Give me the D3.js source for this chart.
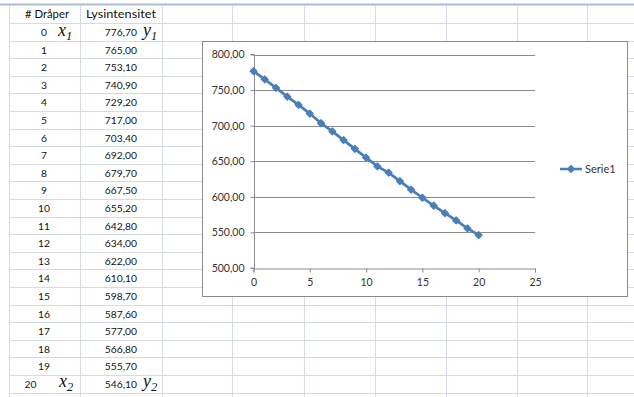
<!DOCTYPE html>
<html>
<head>
<meta charset="utf-8">
<script src="https://cdn.jsdelivr.net/npm/d3@7"></script>
<style>
  html, body { margin: 0; padding: 0; background: #fff; }
  svg { display: block; }
</style>
</head>
<body>
<svg id="sheet" width="634" height="397"></svg>
<script>
// Drop count and measured light intensity
const drops = [0, 1, 2, 3, 4, 5, 6, 7, 8, 9, 10, 11, 12, 13, 14, 15, 16, 17, 18, 19, 20];
const intensity = [776.70, 765.00, 753.10, 740.90, 729.20, 717.00, 703.40, 692.00, 679.70, 667.50,
                   655.20, 642.80, 634.00, 622.00, 610.10, 598.70, 587.60, 577.00, 566.80, 555.70, 546.10];
const headers = ["# Dråper", "Lysintensitet"];
const xTicks = [0, 5, 10, 15, 20, 25];
const yTicks = [500, 550, 600, 650, 700, 750, 800];
const seriesName = "Serie1";

const svg = d3.select("#sheet");
const fmt = v => d3.format(".2f")(v).replace(".", ",");
const cellFont = "Lato, 'Open Sans', sans-serif";

// ---- worksheet grid ----
const colLines = [9.5, 80.5, 162.5, 232.5, 304.5, 375.5, 446.5, 517.5, 587.5];
const rowTop = 23;
const rowH = 17.6;
const grid = svg.append("g");
colLines.forEach(x => grid.append("line")
  .attr("x1", x).attr("x2", x).attr("y1", 5).attr("y2", 397)
  .attr("stroke", "#d4dbe6").attr("stroke-width", 1));
for (let i = 0; i <= 22; i++) {
  const y = Math.round(rowTop + i * rowH) + 0.5;
  grid.append("line").attr("x1", 9).attr("x2", 634).attr("y1", y).attr("y2", y)
    .attr("stroke", "#d4dbe6").attr("stroke-width", 1);
}
grid.append("line").attr("x1", 0).attr("x2", 634).attr("y1", 4.5).attr("y2", 4.5)
  .attr("stroke", "#a9bcd2").attr("stroke-width", 2);

// header row
svg.append("text").attr("x", 25).attr("y", 14).attr("dy", "0.35em")
  .attr("font-family", cellFont).attr("font-size", 11).attr("fill", "#111")
  .attr("textLength", 44).attr("lengthAdjust", "spacingAndGlyphs").text(headers[0]);
svg.append("text").attr("x", 86).attr("y", 14).attr("dy", "0.35em")
  .attr("font-family", cellFont).attr("font-size", 11).attr("fill", "#111")
  .attr("textLength", 70).attr("lengthAdjust", "spacingAndGlyphs").text(headers[1]);

// data rows
const rowCenter = i => rowTop + (i + 0.5) * rowH;
svg.append("g").selectAll("text.d").data(drops).join("text")
  .attr("x", (d, i) => i === 20 ? 30.5 : 44)
  .attr("y", (d, i) => rowCenter(i) + 0.5).attr("dy", "0.35em")
  .attr("text-anchor", "middle")
  .attr("font-family", cellFont).attr("font-size", 10.3).attr("fill", "#111")
  .text(d => d);
svg.append("g").selectAll("text.v").data(intensity).join("text")
  .attr("x", 137).attr("y", (d, i) => rowCenter(i) + 0.5).attr("dy", "0.35em")
  .attr("text-anchor", "end")
  .attr("font-family", cellFont).attr("font-size", 10.3).attr("fill", "#111")
  .text(d => fmt(d));

// italic point labels x1, y1, x2, y2
function mathLabel(x, y, letter, sub) {
  const t = svg.append("text").attr("x", x).attr("y", y)
    .attr("font-family", "'Liberation Serif', 'DejaVu Serif', serif")
    .attr("font-style", "italic").attr("font-size", 18).attr("fill", "#111");
  t.append("tspan").text(letter);
  t.append("tspan").attr("font-size", 12.5).attr("dy", 4).text(sub);
}
mathLabel(58, rowCenter(0) + 4, "x", "1");
mathLabel(143, rowCenter(0) + 4, "y", "1");
mathLabel(59, rowCenter(20) + 3, "x", "2");
mathLabel(143, rowCenter(20) + 3, "y", "2");

// ---- embedded chart ----
const chart = svg.append("g");
chart.append("rect").attr("x", 202.5).attr("y", 41.5).attr("width", 425).attr("height", 255)
  .attr("fill", "#fff").attr("stroke", "#8a8a8a").attr("stroke-width", 1);

const x = d3.scaleLinear().domain([0, 25]).range([253.5, 535]);
const y = d3.scaleLinear().domain([500, 800]).range([268, 54.5]);
const axisColor = "#8c8c8c";
const labelFont = cellFont;

// horizontal gridlines
chart.append("g").selectAll("line").data(yTicks.filter(v => v > 500)).join("line")
  .attr("x1", x(0)).attr("x2", x(25))
  .attr("y1", d => Math.round(y(d)) + 0.5).attr("y2", d => Math.round(y(d)) + 0.5)
  .attr("stroke", axisColor).attr("stroke-width", 1);

// y axis
const yAxis = chart.append("g").attr("transform", `translate(${Math.round(x(0)) + 0.5},0)`)
  .call(d3.axisLeft(y).tickValues(yTicks).tickFormat(fmt).tickSize(4).tickPadding(6));
// x axis
const xAxis = chart.append("g").attr("transform", `translate(0,${Math.round(y(500)) + 0.5})`)
  .call(d3.axisBottom(x).tickValues(xTicks).tickSize(4).tickPadding(6));
[yAxis, xAxis].forEach(a => {
  a.select(".domain").attr("stroke", axisColor);
  a.selectAll(".tick line").attr("stroke", axisColor);
  a.selectAll("text").attr("font-family", labelFont).attr("font-size", 10.5).attr("fill", "#333");
});
yAxis.select(".domain").attr("d", `M-4,${y(800)}H0V${y(500)}H-4`);

// series line and diamond markers
const blue = "#4a7ebb";
const pts = drops.map((d, i) => [d, intensity[i]]);
chart.append("path").datum(pts)
  .attr("d", d3.line().x(d => x(d[0])).y(d => y(d[1])))
  .attr("fill", "none").attr("stroke", blue).attr("stroke-width", 2.75);
const marker = d3.symbol().type(d3.symbolSquare).size(24);
chart.append("g").selectAll("path").data(pts).join("path")
  .attr("transform", d => `translate(${x(d[0])},${y(d[1])}) rotate(45)`)
  .attr("d", marker).attr("fill", blue).attr("stroke", blue)
  .attr("stroke-width", 1.2).attr("stroke-linejoin", "round");

// legend
const lg = chart.append("g").attr("transform", "translate(560,169)");
lg.append("line").attr("x1", 0).attr("x2", 22).attr("stroke", blue).attr("stroke-width", 2.5);
lg.append("path").attr("transform", "translate(11,0) rotate(45)").attr("d", marker)
  .attr("fill", blue).attr("stroke", blue).attr("stroke-width", 1.2);
lg.append("text").attr("x", 25).attr("dy", "0.35em")
  .attr("font-family", labelFont).attr("font-size", 11).attr("fill", "#333").text(seriesName);
</script>
</body>
</html>
